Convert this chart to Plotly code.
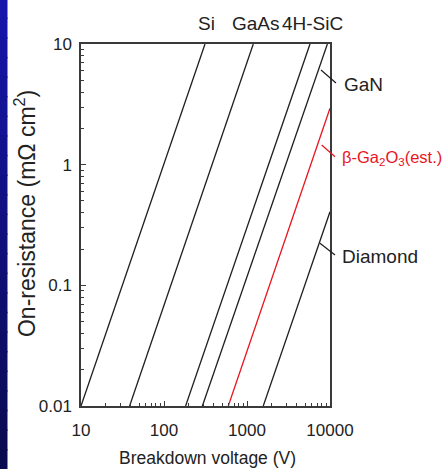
import plotly.graph_objects as go

# Specific on-resistance limits vs. breakdown voltage (endpoints of each limit line)
si_v = [10, 312]
si_r = [0.01, 10]
gaas_v = [38.5, 1190]
gaas_r = [0.01, 10]
sic_v = [182, 5740]
sic_r = [0.01, 10]
gan_v = [290, 9300]
gan_r = [0.01, 10]
ga2o3_v = [595, 10000]
ga2o3_r = [0.01, 2.93]
diamond_v = [1570, 10000]
diamond_r = [0.01, 0.407]

x_ticks = [10, 100, 1000, 10000]
x_tick_text = ["10", "100", "1000", "10000"]
y_ticks = [0.01, 0.1, 1, 10]
y_tick_text = ["0.01", "0.1", "1", "10"]

BLACK = "#1e1e1e"
RED = "#e8141e"
FONT = "Liberation Sans, Arial, sans-serif"
TEXT = "#222222"

fig = go.Figure()
series = [
    (si_v, si_r, BLACK),
    (gaas_v, gaas_r, BLACK),
    (sic_v, sic_r, BLACK),
    (gan_v, gan_r, BLACK),
    (ga2o3_v, ga2o3_r, RED),
    (diamond_v, diamond_r, BLACK),
]
for v, r, c in series:
    fig.add_trace(go.Scatter(x=v, y=r, mode="lines",
                             line=dict(color=c, width=1.3),
                             showlegend=False, hoverinfo="skip"))

# minor log ticks (2..9 in every decade)
def minor_vals(lo_exp, hi_exp):
    out = []
    for e in range(lo_exp, hi_exp):
        for m in range(2, 10):
            out.append(m * 10.0 ** e)
    return out

axis_common = dict(
    type="log", showgrid=False, zeroline=False,
    showline=True, linecolor="#3a3a3a", linewidth=1.5, mirror=True,
    ticks="inside", ticklen=5, tickcolor="#3a3a3a", tickwidth=1,
    tickfont=dict(family=FONT, size=17, color=TEXT),
)

fig.update_xaxes(
    range=[1, 4], tickmode="array", tickvals=x_ticks, ticktext=x_tick_text,
    minor=dict(tickmode="array", tickvals=minor_vals(1, 4), ticks="inside",
               ticklen=3, tickcolor="#3a3a3a", tickwidth=1, showgrid=False),
    ticklabelstandoff=8, **axis_common,
)
fig.update_yaxes(
    range=[-2, 1], tickmode="array", tickvals=y_ticks, ticktext=y_tick_text,
    minor=dict(tickmode="array", tickvals=minor_vals(-2, 1), ticks="inside",
               ticklen=3, tickcolor="#3a3a3a", tickwidth=1, showgrid=False),
    ticklabelstandoff=4, **axis_common,
)

annotations = [
    # material names along the top
    dict(text="Si", x=0.506, y=1.057),
    dict(text="GaAs", x=0.7036, y=1.057),
    dict(text="4H-SiC", x=0.9317, y=1.057),
    # labels on the right
    dict(text="GaN", x=1.047, y=0.8895, xanchor="left"),
    dict(text="β-Ga<sub>2</sub>O<sub>3</sub>(est.)", x=1.041, y=0.685,
         xanchor="left", font=dict(family=FONT, size=16.5, color=RED)),
    dict(text="Diamond", x=1.041, y=0.4124, xanchor="left"),
    # axis titles
    dict(text="Breakdown voltage (V)", x=0.51, y=-0.1436,
         font=dict(family=FONT, size=17.5, color=TEXT)),
    dict(text="On-resistance (mΩ cm<sup>2</sup>)", x=-0.225, y=0.533, textangle=-90,
         font=dict(family=FONT, size=23, color=TEXT)),
]
for a in annotations:
    a.setdefault("xref", "paper")
    a.setdefault("yref", "paper")
    a.setdefault("showarrow", False)
    a.setdefault("xanchor", "center")
    a.setdefault("yanchor", "middle")
    a.setdefault("font", dict(family=FONT, size=19, color=TEXT))
    fig.add_annotation(**a)

# leader lines from the curves to their labels
leaders = [
    (0.9639, 0.9282, 1.0241, 0.8923, BLACK),
    (0.9667, 0.7210, 1.0201, 0.6887, RED),
    (0.9598, 0.4494, 1.0201, 0.4171, BLACK),
]
shapes = [dict(type="line", xref="paper", yref="paper", x0=x0, y0=y0, x1=x1, y1=y1,
               line=dict(color=c, width=1.2)) for x0, y0, x1, y1, c in leaders]

# dark blue strip at the left edge, shaded top to bottom
n_bands = 24
y_lo, y_hi = -0.175, 1.125
top_rgb = (22, 22, 170)
bot_rgb = (10, 10, 80)
for i in range(n_bands):
    t = i / (n_bands - 1)
    rgb = tuple(int(round(top_rgb[k] + (bot_rgb[k] - top_rgb[k]) * t)) for k in range(3))
    y1 = y_hi - (y_hi - y_lo) * i / n_bands
    y0 = y_hi - (y_hi - y_lo) * (i + 1) / n_bands
    shapes.append(dict(type="rect", xref="paper", yref="paper",
                       x0=-0.33, x1=-0.2952, y0=y0 - 0.002, y1=y1 + 0.002,
                       fillcolor="rgb(%d,%d,%d)" % rgb, line=dict(width=0),
                       layer="below"))

fig.update_layout(
    width=446, height=469,
    margin=dict(l=81, r=116, t=44, b=63),
    paper_bgcolor="white", plot_bgcolor="white",
    shapes=shapes,
    showlegend=False,
)

fig.write_html("out.html")
